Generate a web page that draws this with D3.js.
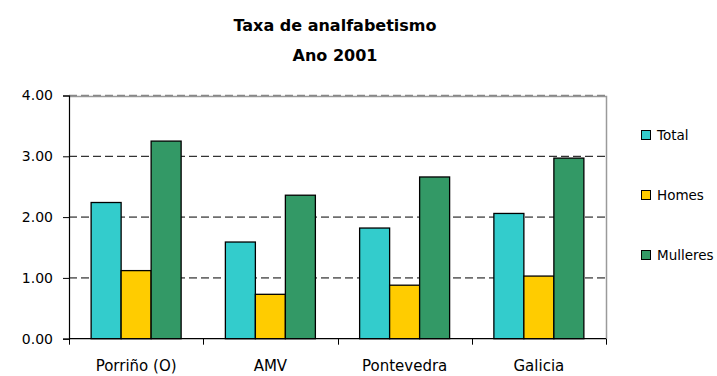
<!DOCTYPE html>
<html>
<head>
<meta charset="utf-8">
<script src="https://cdn.jsdelivr.net/npm/d3@7"></script>
<style>
  html, body { margin: 0; padding: 0; background: #fff; }
  svg { display: block; font-family: "DejaVu Sans", Verdana, sans-serif; }
</style>
</head>
<body>
<svg id="chart" width="717" height="376"></svg>
<script>
// Illiteracy rate by area and sex, 2001
const categories = ["Porriño (O)", "AMV", "Pontevedra", "Galicia"];
const seriesNames = ["Total", "Homes", "Mulleres"];
const totalValues = [2.24, 1.59, 1.82, 2.06];
const homesValues = [1.12, 0.73, 0.88, 1.03];
const mulleresValues = [3.25, 2.36, 2.66, 2.97];
const yTicks = [0, 1, 2, 3, 4];
const seriesColors = ["#33CCCC", "#FFCC00", "#339966"];
const titleLines = ["Taxa de analfabetismo", "Ano 2001"];

const seriesValues = [totalValues, homesValues, mulleresValues];
const rows = categories.map((c, i) => ({
  category: c,
  values: seriesNames.map((s, j) => ({ series: s, value: seriesValues[j][i] }))
}));

const svg = d3.select("#chart");
const plot = { left: 69, right: 606, top: 95.5, bottom: 338.7 };

const x = d3.scaleBand().domain(categories).range([plot.left, plot.right]).padding(0);
const xInner = d3.scaleBand().domain(seriesNames).range([0, x.bandwidth()])
  .paddingInner(0).paddingOuter(0.7375);
const y = d3.scaleLinear().domain([0, 4]).range([plot.bottom, plot.top]);
const color = d3.scaleOrdinal().domain(seriesNames).range(seriesColors);

// Title
svg.append("g").selectAll("text")
  .data(titleLines)
  .join("text")
  .attr("x", 335)
  .attr("y", (d, i) => 31 + i * 30)
  .attr("text-anchor", "middle")
  .attr("font-size", 16)
  .attr("font-weight", "bold")
  .attr("fill", "#000")
  .text(d => d);

// Plot frame (top and right edges, grey)
svg.append("path")
  .attr("d", `M${plot.left},${Math.round(plot.top) + 0.5}H${plot.right + 0.5}V${plot.bottom}`)
  .attr("fill", "none")
  .attr("stroke", "#9a9a9a")
  .attr("stroke-width", 1.5);

// Dashed gridlines
svg.append("g").selectAll("line")
  .data(yTicks.filter(t => t > 0))
  .join("line")
  .attr("x1", plot.left)
  .attr("x2", plot.right)
  .attr("y1", d => y(d))
  .attr("y2", d => y(d))
  .attr("stroke", d => d === 3 ? "#000" : (d === 4 ? "#888" : "#6e6e6e"))
  .attr("stroke-width", d => d === 3 ? 1 : 1.6)
  .attr("stroke-dasharray", "8,4");

// Bars
const groups = svg.append("g").selectAll("g")
  .data(rows)
  .join("g")
  .attr("transform", d => `translate(${x(d.category)},0)`);

groups.selectAll("rect")
  .data(d => d.values)
  .join("rect")
  .attr("x", d => xInner(d.series))
  .attr("width", xInner.bandwidth())
  .attr("y", d => y(d.value))
  .attr("height", d => y(0) - y(d.value))
  .attr("fill", d => color(d.series))
  .attr("stroke", "#000")
  .attr("stroke-width", 1.3);

// Y axis
const yAxis = svg.append("g")
  .attr("transform", `translate(${plot.left},0)`)
  .call(d3.axisLeft(y).tickValues(yTicks).tickFormat(d3.format(".2f")).tickSize(6).tickPadding(10));
yAxis.select(".domain").attr("stroke", "#000").attr("stroke-width", 1.2);
yAxis.selectAll(".tick line").attr("stroke", "#000");
yAxis.selectAll(".tick text")
  .attr("font-size", 14)
  .attr("font-family", "DejaVu Sans, sans-serif")
  .attr("fill", "#000");

// X axis with ticks at category boundaries
const xAxis = svg.append("g").attr("transform", `translate(0,${plot.bottom})`);
xAxis.append("line")
  .attr("x1", plot.left).attr("x2", plot.right)
  .attr("stroke", "#000").attr("stroke-width", 1.2);
const boundaries = categories.map(c => x(c)).concat([x(categories[categories.length - 1]) + x.bandwidth()]);
xAxis.selectAll("line.tick")
  .data(boundaries)
  .join("line")
  .attr("class", "tick")
  .attr("x1", d => Math.round(d) + 0.5)
  .attr("x2", d => Math.round(d) + 0.5)
  .attr("y1", 0)
  .attr("y2", 6)
  .attr("stroke", "#000");
xAxis.selectAll("text")
  .data(categories)
  .join("text")
  .attr("x", d => x(d) + x.bandwidth() / 2)
  .attr("y", 32.5)
  .attr("text-anchor", "middle")
  .attr("font-size", 15)
  .attr("fill", "#000")
  .text(d => d);

// Legend
const legend = svg.append("g").selectAll("g")
  .data(seriesNames)
  .join("g")
  .attr("transform", (d, i) => `translate(641,${130 + i * 60})`);
legend.append("rect")
  .attr("x", 0.5).attr("y", 0.5)
  .attr("width", 9).attr("height", 9)
  .attr("fill", d => color(d))
  .attr("stroke", "#000")
  .attr("stroke-width", 1);
legend.append("text")
  .attr("x", 16)
  .attr("y", 10)
  .attr("font-size", 13.5)
  .attr("fill", "#000")
  .text(d => d);
</script>
</body>
</html>
